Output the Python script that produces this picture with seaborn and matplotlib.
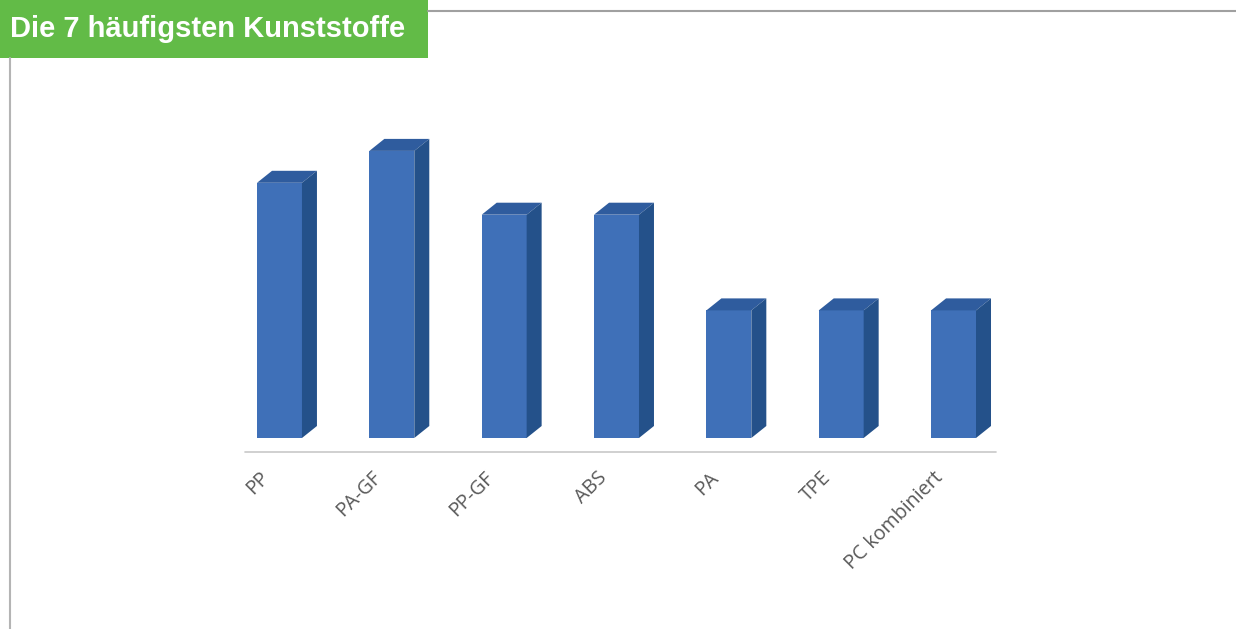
import matplotlib
matplotlib.use("Agg")
import matplotlib.pyplot as plt
import seaborn as sns
import pandas as pd
from matplotlib.patches import Polygon, Rectangle
from matplotlib.lines import Line2D

# ─── Daten ─────────────────────────────────────────────────────────────────────
kunststoffe = ["PP", "PA-GF", "PP-GF", "ABS", "PA", "TPE", "PC kombiniert"]
werte = [8, 9, 7, 7, 4, 4, 4]
titel = "Die 7 häufigsten Kunststoffe"

FRONT = "#3F70B8"
TOP = "#2F5C9E"
SIDE = "#24518A"
GREEN = "#62BB47"

W, H, DPI = 1236, 629, 100

sns.set_theme(style="white")
plt.rcParams["font.family"] = ["Open Sans", "DejaVu Sans"]

fig = plt.figure(figsize=(W / DPI, H / DPI), dpi=DPI)

# Achsen: x 245..996 px, Basis der Balken bei y 438 px
ax_l, ax_r, ax_b, ax_t = 245, 996, 438, 100
ax = fig.add_axes([ax_l / W, 1 - ax_b / H, (ax_r - ax_l) / W, (ax_b - ax_t) / H])

df = pd.DataFrame({"kunststoff": kunststoffe, "wert": werte})
sns.barplot(data=df, x="kunststoff", y="wert", color=FRONT, saturation=1,
            width=0.4, linewidth=0, ax=ax)

ax.set_xlim(-0.307, 6.378)
ax.set_ylim(0, (ax_b - ax_t) / 31.9)
for s in ax.spines.values():
    s.set_visible(False)
ax.set_yticks([])
ax.set_xlabel("")
ax.set_ylabel("")
ax.set_xticks(range(len(kunststoffe)))
ax.set_xticklabels([])
ax.tick_params(axis="x", length=0)

# 3D-Effekt: Tiefe in Pixel -> Dateneinheiten
px_x = (ax_r - ax_l) / (ax.get_xlim()[1] - ax.get_xlim()[0])
px_y = (ax_b - ax_t) / ax.get_ylim()[1]
dx, dy = 15 / px_x, 12 / px_y
for p in list(ax.patches):
    x0, w, h = p.get_x(), p.get_width(), p.get_height()
    x1 = x0 + w
    ax.add_patch(Polygon([(x0, h), (x1, h), (x1 + dx, h + dy), (x0 + dx, h + dy)],
                         closed=True, facecolor=TOP, edgecolor="none", clip_on=False))
    ax.add_patch(Polygon([(x1, 0), (x1 + dx, dy), (x1 + dx, h + dy), (x1, h)],
                         closed=True, facecolor=SIDE, edgecolor="none", clip_on=False))

# Grundlinie
ax.plot([0, 1], [-14 / (ax_b - ax_t)] * 2, transform=ax.transAxes,
        color="#C8C8C8", lw=1.2, clip_on=False)

# Beschriftungen
for i, lab in enumerate(kunststoffe):
    ax.text(i - 20 / px_x, -30 / px_y, lab, rotation=45, rotation_mode="anchor",
            ha="right", va="top", fontsize=14.2, color="#595959")

# Rahmenlinien
fig.add_artist(Line2D([428 / W, 1], [1 - 11 / H] * 2, color="#A0A0A0", lw=1.5))
fig.add_artist(Line2D([10 / W] * 2, [0, 1 - 58 / H], color="#B4B4B4", lw=1.5))

# Titelbox
fig.add_artist(Rectangle((0, 1 - 58 / H), 428 / W, 58 / H, transform=fig.transFigure,
                         facecolor=GREEN, edgecolor="none"))
fig.text(10 / W, 1 - 29 / H, titel, ha="left", va="center", fontsize=21,
         fontweight="bold", color="white", family=["Liberation Sans", "DejaVu Sans"])

fig.savefig("out.png", dpi=DPI)
